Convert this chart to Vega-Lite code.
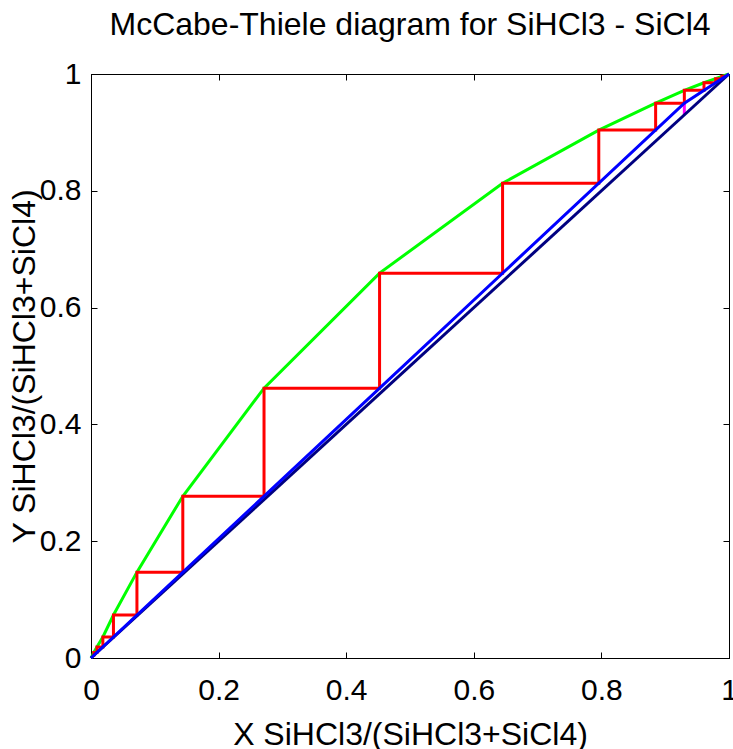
{
  "$schema": "https://vega.github.io/schema/vega-lite/v6.json",
  "width": 638,
  "height": 584,
  "autosize": {"type": "none"},
  "padding": {"left": 91, "top": 74, "right": 4, "bottom": 91},
  "background": "white",
  "title": {
    "text": "McCabe-Thiele diagram for SiHCl3 - SiCl4",
    "font": "Liberation Sans",
    "fontSize": 32,
    "fontWeight": "normal",
    "color": "black",
    "anchor": "middle",
    "baseline": "alphabetic",
    "offset": 36,
    "dy": 44
  },
  "config": {
    "view": {"stroke": "black", "strokeWidth": 1},
    "axis": {
      "labelFont": "Liberation Sans",
      "labelFontSize": 30,
      "labelColor": "black",
      "titleFont": "Liberation Sans",
      "titleFontSize": 32,
      "titleFontWeight": "normal",
      "titleColor": "black",
      "domainColor": "black",
      "tickColor": "black",
      "grid": false,
      "tickSize": -6
    }
  },
  "datasets": {
    "eq": [
      {"x": 0, "y": 0}, {"x": 0.0022, "y": 0.0045}, {"x": 0.0044, "y": 0.0095},
      {"x": 0.0093, "y": 0.019}, {"x": 0.0186, "y": 0.036}, {"x": 0.0352, "y": 0.0736},
      {"x": 0.072, "y": 0.147}, {"x": 0.1439, "y": 0.277}, {"x": 0.2712, "y": 0.462},
      {"x": 0.4523, "y": 0.659}, {"x": 0.6451, "y": 0.813}, {"x": 0.7959, "y": 0.904},
      {"x": 0.885, "y": 0.95}, {"x": 0.93, "y": 0.972}, {"x": 0.9608, "y": 0.985},
      {"x": 0.979, "y": 0.992}, {"x": 0.9888, "y": 0.996}, {"x": 1, "y": 1}
    ],
    "steps": [
      {"o": 1, "x": 0.0022, "y": 0.0045}, {"o": 2, "x": 0.0044, "y": 0.0045},
      {"o": 3, "x": 0.0044, "y": 0.0095}, {"o": 4, "x": 0.0093, "y": 0.0095},
      {"o": 5, "x": 0.0093, "y": 0.019}, {"o": 6, "x": 0.0186, "y": 0.019},
      {"o": 7, "x": 0.0186, "y": 0.036}, {"o": 8, "x": 0.0352, "y": 0.036},
      {"o": 9, "x": 0.0352, "y": 0.0736}, {"o": 10, "x": 0.072, "y": 0.0736},
      {"o": 11, "x": 0.072, "y": 0.147}, {"o": 12, "x": 0.1439, "y": 0.147},
      {"o": 13, "x": 0.1439, "y": 0.277}, {"o": 14, "x": 0.2712, "y": 0.277},
      {"o": 15, "x": 0.2712, "y": 0.462}, {"o": 16, "x": 0.4523, "y": 0.462},
      {"o": 17, "x": 0.4523, "y": 0.659}, {"o": 18, "x": 0.6451, "y": 0.659},
      {"o": 19, "x": 0.6451, "y": 0.813}, {"o": 20, "x": 0.7959, "y": 0.813},
      {"o": 21, "x": 0.7959, "y": 0.904}, {"o": 22, "x": 0.885, "y": 0.904},
      {"o": 23, "x": 0.885, "y": 0.95}, {"o": 24, "x": 0.93, "y": 0.95},
      {"o": 25, "x": 0.93, "y": 0.972}, {"o": 26, "x": 0.9608, "y": 0.972},
      {"o": 27, "x": 0.9608, "y": 0.985}, {"o": 28, "x": 0.979, "y": 0.985},
      {"o": 29, "x": 0.979, "y": 0.992}, {"o": 30, "x": 0.9888, "y": 0.992},
      {"o": 31, "x": 0.9888, "y": 0.996}, {"o": 32, "x": 0.9944, "y": 0.996}
    ],
    "qline": [{"x": 0.93, "y": 0.93}, {"x": 0.93, "y": 0.95}],
    "diag": [{"x": 0, "y": 0}, {"x": 1, "y": 1}],
    "op": [{"x": 0, "y": 0}, {"x": 0.93, "y": 0.95}, {"x": 1, "y": 1}]
  },
  "resolve": {"axis": {"x": "independent", "y": "independent"}},
  "layer": [
    {
      "data": {"name": "eq"},
      "mark": {"type": "line", "color": "#00ff00", "strokeWidth": 3},
      "encoding": {
        "x": {"field": "x", "type": "quantitative", "scale": {"domain": [0, 1], "nice": false},
          "axis": {"orient": "bottom", "values": [0, 0.2, 0.4, 0.6, 0.8, 1], "format": "~g", "labelPadding": 23,
            "title": "X SiHCl3/(SiHCl3+SiCl4)", "titleX": 319, "titleY": 76, "titleBaseline": "middle", "titleAnchor": "middle", "labelFlush": false}},
        "y": {"field": "y", "type": "quantitative", "scale": {"domain": [0, 1], "nice": false},
          "axis": {"orient": "left", "values": [0, 0.2, 0.4, 0.6, 0.8, 1], "format": "~g", "labelPadding": 16,
            "title": "Y SiHCl3/(SiHCl3+SiCl4)", "titleX": -67, "titleY": 292, "titleAngle": -90, "titleBaseline": "middle", "titleAnchor": "middle", "labelFlush": false}},
        "order": {"field": "x", "type": "quantitative"}
      }
    },
    {
      "data": {"name": "steps"},
      "mark": {"type": "line", "color": "#ff0000", "strokeWidth": 3},
      "encoding": {
        "x": {"field": "x", "type": "quantitative",
          "axis": {"orient": "top", "values": [0, 0.2, 0.4, 0.6, 0.8, 1], "labels": false, "title": null}},
        "y": {"field": "y", "type": "quantitative",
          "axis": {"orient": "right", "values": [0, 0.2, 0.4, 0.6, 0.8, 1], "labels": false, "title": null}},
        "order": {"field": "o", "type": "quantitative"}
      }
    },
    {
      "data": {"name": "qline"},
      "mark": {"type": "line", "color": "#ff00ff", "strokeWidth": 3},
      "encoding": {
        "x": {"field": "x", "type": "quantitative", "axis": null},
        "y": {"field": "y", "type": "quantitative", "axis": null}
      }
    },
    {
      "data": {"name": "diag"},
      "mark": {"type": "line", "color": "#000080", "strokeWidth": 3},
      "encoding": {
        "x": {"field": "x", "type": "quantitative", "axis": null},
        "y": {"field": "y", "type": "quantitative", "axis": null}
      }
    },
    {
      "data": {"name": "op"},
      "mark": {"type": "line", "color": "#0000ff", "strokeWidth": 3},
      "encoding": {
        "x": {"field": "x", "type": "quantitative", "axis": null},
        "y": {"field": "y", "type": "quantitative", "axis": null}
      }
    }
  ]
}
